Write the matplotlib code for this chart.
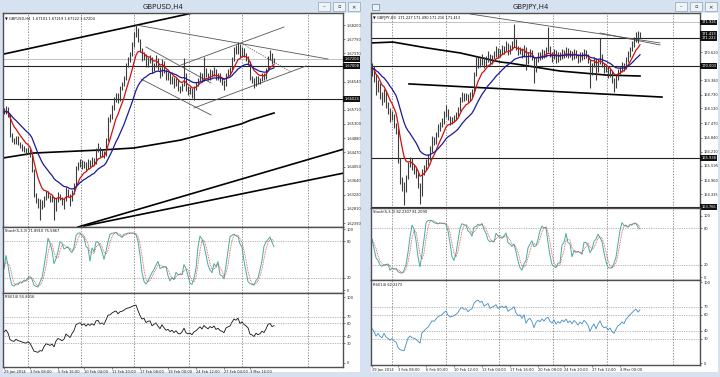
import numpy as np
import pandas as pd
import matplotlib
matplotlib.use("Agg")
import matplotlib.pyplot as plt
from matplotlib.patches import Rectangle

# ---------------- GBPUSD H4 ----------------
usd_close = [1.6565, 1.6577, 1.6556, 1.6498, 1.6483, 1.6477, 1.6489, 1.6474, 1.6468, 1.6460,
             1.6454, 1.6448, 1.6454, 1.6439, 1.6395, 1.6322, 1.6307, 1.6293, 1.6301, 1.6293,
             1.6313, 1.6328, 1.6319, 1.6307, 1.6313, 1.6278, 1.6307, 1.6322, 1.6313, 1.6299,
             1.6307, 1.6337, 1.6322, 1.6307, 1.6331, 1.6351, 1.6401, 1.6410, 1.6419, 1.6404,
             1.6416, 1.6401, 1.6419, 1.6410, 1.6425, 1.6416, 1.6454, 1.6460, 1.6439, 1.6448,
             1.6439, 1.6483, 1.6542, 1.6548, 1.6577, 1.6600, 1.6615, 1.6600, 1.6635, 1.6644,
             1.6665, 1.6703, 1.6718, 1.6732, 1.6761, 1.6791, 1.6805, 1.6776, 1.6747, 1.6723,
             1.6732, 1.6703, 1.6718, 1.6723, 1.6688, 1.6703, 1.6718, 1.6694, 1.6674, 1.6712,
             1.6688, 1.6665, 1.6674, 1.6653, 1.6665, 1.6644, 1.6659, 1.6635, 1.6630, 1.6644,
             1.6674, 1.6635, 1.6624, 1.6630, 1.6615, 1.6635, 1.6644, 1.6659, 1.6674, 1.6659,
             1.6688, 1.6674, 1.6665, 1.6682, 1.6674, 1.6688, 1.6665, 1.6674, 1.6659, 1.6653,
             1.6644, 1.6674, 1.6682, 1.6688, 1.6718, 1.6747, 1.6741, 1.6761, 1.6732, 1.6747,
             1.6732, 1.6723, 1.6712, 1.6665, 1.6659, 1.6644, 1.6665, 1.6653, 1.6659, 1.6674,
             1.6665, 1.6688, 1.6723, 1.6732, 1.6712, 1.6720]
usd_high = [1.6578, 1.6584, 1.6580, 1.6560, 1.6505, 1.6490, 1.6495, 1.6494, 1.6478, 1.6472,
            1.6466, 1.6460, 1.6462, 1.6458, 1.6442, 1.6398, 1.6328, 1.6312, 1.6310, 1.6308,
            1.6320, 1.6335, 1.6334, 1.6322, 1.6320, 1.6315, 1.6312, 1.6330, 1.6326, 1.6316,
            1.6312, 1.6345, 1.6340, 1.6326, 1.6338, 1.6358, 1.6408, 1.6418, 1.6427, 1.6424,
            1.6423, 1.6420, 1.6426, 1.6424, 1.6432, 1.6430, 1.6460, 1.6474, 1.6464, 1.6456,
            1.6452, 1.6490, 1.6550, 1.6560, 1.6585, 1.6610, 1.6622, 1.6620, 1.6642, 1.6652,
            1.6672, 1.6710, 1.6726, 1.6740, 1.6770, 1.6800, 1.6823, 1.6810, 1.6780, 1.6752,
            1.6740, 1.6736, 1.6725, 1.6732, 1.6726, 1.6710, 1.6732, 1.6722, 1.6698, 1.6720,
            1.6716, 1.6692, 1.6682, 1.6678, 1.6672, 1.6668, 1.6666, 1.6662, 1.6640, 1.6650,
            1.6723, 1.6678, 1.6640, 1.6638, 1.6634, 1.6642, 1.6652, 1.6666, 1.6682, 1.6678,
            1.6726, 1.6694, 1.6680, 1.6690, 1.6688, 1.6696, 1.6692, 1.6680, 1.6678, 1.6664,
            1.6658, 1.6680, 1.6690, 1.6696, 1.6725, 1.6755, 1.6760, 1.6770, 1.6764, 1.6755,
            1.6752, 1.6738, 1.6728, 1.6716, 1.6672, 1.6664, 1.6672, 1.6670, 1.6666, 1.6680,
            1.6678, 1.6695, 1.6730, 1.6747, 1.6738, 1.6722]
usd_low = [1.6558, 1.6560, 1.6550, 1.6492, 1.6476, 1.6470, 1.6472, 1.6468, 1.6460, 1.6452,
           1.6448, 1.6440, 1.6442, 1.6432, 1.6388, 1.6315, 1.6298, 1.6285, 1.6249, 1.6280,
           1.6288, 1.6308, 1.6312, 1.6300, 1.6302, 1.6249, 1.6275, 1.6302, 1.6306, 1.6292,
           1.6280, 1.6303, 1.6316, 1.6290, 1.6304, 1.6326, 1.6348, 1.6395, 1.6405, 1.6398,
           1.6400, 1.6395, 1.6398, 1.6404, 1.6406, 1.6410, 1.6412, 1.6448, 1.6432, 1.6434,
           1.6430, 1.6436, 1.6480, 1.6535, 1.6544, 1.6572, 1.6595, 1.6592, 1.6598, 1.6630,
           1.6640, 1.6660, 1.6698, 1.6712, 1.6728, 1.6755, 1.6785, 1.6770, 1.6740, 1.6715,
           1.6718, 1.6696, 1.6698, 1.6710, 1.6680, 1.6684, 1.6698, 1.6688, 1.6666, 1.6670,
           1.6680, 1.6658, 1.6660, 1.6646, 1.6648, 1.6636, 1.6640, 1.6628, 1.6622, 1.6626,
           1.6640, 1.6628, 1.6616, 1.6618, 1.6606, 1.6600, 1.6630, 1.6640, 1.6655, 1.6652,
           1.6655, 1.6668, 1.6658, 1.6660, 1.6668, 1.6670, 1.6658, 1.6660, 1.6652, 1.6645,
           1.6630, 1.6640, 1.6670, 1.6676, 1.6684, 1.6714, 1.6734, 1.6736, 1.6725, 1.6728,
           1.6725, 1.6716, 1.6704, 1.6658, 1.6650, 1.6636, 1.6640, 1.6646, 1.6648, 1.6655,
           1.6658, 1.6662, 1.6685, 1.6718, 1.6705, 1.6710]
usd_rsi_seed = (0.00075, 0.00085)  # average gain / loss carried in from before the window
usd_ma200_x = [-0.5, 15, 48.5, 65, 88.5, 118.5, 123.5, 135]
usd_ma200 = [1.64304, 1.64450, 1.64538, 1.64597, 1.64831, 1.65300, 1.65417, 1.65622]
usd_thick_lines = [((-1, 1.67338), (100, 1.68625)),
                   ((37, 1.62282), (170, 1.64567)),
                   ((40, 1.62311), (170, 1.63864))]
usd_thin_lines = [((66, 1.68201), (162, 1.67204)),
                  ((71, 1.67556), (103.5, 1.66501)),
                  ((68.5, 1.66618), (103.5, 1.65564)),
                  ((95, 1.65769), (151, 1.66999)),
                  ((88.5, 1.67029), (140, 1.68142))]
usd_dotted_lines = [((118.5, 1.67673), (143.5, 1.66823))]
usd_hlines = [1.67008, 1.66024]
usd_bid = 1.67204
usd_price_ticks = [1.68200, 1.67790, 1.67370, 1.66540, 1.65710, 1.65300, 1.64880,
                   1.64470, 1.64050, 1.63640, 1.63220, 1.62810, 1.62390]
usd_boxes = [1.67204, 1.67008, 1.66024]
usd_box_labels = ["1.67204", "1.67008", "1.66024"]
usd_date_pos = [0, 13, 27, 40, 54, 68, 82, 96, 110, 123]
usd_dates = ["29 Jan 2014", "3 Feb 08:00", "5 Feb 16:00", "10 Feb 04:00", "11 Feb 20:00",
             "17 Feb 08:00", "19 Feb 00:00", "24 Feb 12:00", "27 Feb 04:00", "3 Mar 16:00"]
usd_grid = [12, 38.5, 65, 92.25, 118.75, 152]

# ---------------- GBPJPY H4 ----------------
jpy_close = [169.91, 169.60, 168.94, 169.16, 168.72, 168.50, 168.85, 168.28, 168.06, 167.71,
             167.84, 167.40, 167.18, 165.85, 164.97, 164.75, 164.53, 165.06, 165.63, 165.85,
             165.50, 165.41, 165.19, 164.75, 164.30, 165.32, 165.50, 165.76, 165.94, 166.29,
             166.73, 166.65, 166.95, 167.26, 167.40, 167.53, 167.84, 168.06, 167.71, 167.53,
             167.62, 167.71, 167.84, 168.06, 168.50, 168.72, 168.59, 168.68, 168.50, 168.72,
             168.85, 169.60, 170.05, 170.27, 170.13, 170.36, 170.05, 170.27, 170.49, 170.18,
             170.36, 170.49, 170.71, 170.49, 170.62, 170.80, 170.71, 170.93, 170.62, 170.80,
             170.93, 171.15, 170.80, 170.62, 170.71, 170.49, 170.80, 170.18, 170.49, 170.62,
             170.36, 169.83, 170.27, 170.49, 170.36, 170.62, 170.44, 170.71, 170.80, 170.49,
             170.36, 170.62, 170.27, 170.49, 170.36, 170.62, 170.49, 170.71, 170.44, 170.58,
             170.36, 170.62, 170.49, 170.27, 170.49, 170.36, 170.62, 170.49, 170.27, 169.74,
             170.05, 170.27, 169.83, 170.18, 170.49, 170.05, 169.83, 169.91, 169.60, 169.74,
             169.38, 169.16, 169.47, 169.74, 169.83, 170.05, 169.91, 170.27, 170.49, 170.71,
             170.93, 171.15, 171.33, 171.15, 171.41]
jpy_high = [170.13, 170.00, 169.65, 169.40, 169.25, 168.85, 169.00, 168.95, 168.40, 168.15,
            168.00, 167.90, 167.50, 167.25, 165.95, 165.10, 164.90, 165.20, 165.75, 166.00,
            165.95, 165.65, 165.50, 165.30, 164.85, 165.45, 165.65, 165.90, 166.10, 166.45,
            166.90, 166.85, 167.10, 167.45, 167.55, 167.70, 168.00, 168.30, 168.10, 167.80,
            167.75, 167.85, 167.95, 168.20, 168.65, 168.85, 168.80, 168.80, 168.75, 168.85,
            169.00, 169.75, 170.45, 170.40, 170.35, 170.55, 170.40, 170.45, 170.65, 170.55,
            170.50, 170.65, 170.90, 170.80, 170.75, 170.95, 170.90, 171.10, 171.00, 170.95,
            171.10, 171.86, 171.20, 170.90, 170.85, 170.80, 170.95, 170.85, 170.60, 170.75,
            170.70, 170.40, 170.40, 170.60, 170.60, 170.75, 170.70, 170.85, 171.72, 170.90,
            170.60, 170.75, 170.70, 170.60, 170.60, 170.75, 170.70, 170.85, 170.80, 170.70,
            170.65, 170.75, 170.70, 170.55, 170.60, 170.60, 170.75, 170.70, 170.55, 170.30,
            170.15, 170.40, 170.35, 170.30, 171.24, 170.55, 170.15, 170.05, 170.00, 169.85,
            169.80, 169.45, 169.60, 169.85, 169.95, 170.20, 170.15, 170.40, 170.65, 170.85,
            171.10, 171.30, 171.50, 171.55, 171.49]
jpy_low = [169.55, 169.30, 168.70, 168.85, 168.55, 168.30, 168.40, 168.15, 167.90, 167.55,
           167.60, 167.25, 167.00, 165.70, 164.80, 164.50, 163.85, 164.45, 165.00, 165.55,
           165.40, 165.25, 165.05, 164.60, 163.90, 164.25, 165.20, 165.40, 165.65, 165.85,
           166.20, 166.50, 166.55, 166.85, 167.15, 167.30, 167.45, 167.75, 167.60, 167.40,
           167.45, 167.55, 167.60, 167.75, 168.00, 168.40, 168.45, 168.50, 168.40, 168.45,
           168.65, 168.80, 169.55, 169.90, 169.95, 170.05, 169.90, 170.00, 170.20, 170.05,
           170.10, 170.30, 170.40, 170.35, 170.40, 170.55, 170.55, 170.65, 170.50, 170.55,
           170.70, 170.85, 170.70, 170.50, 170.55, 170.35, 170.40, 169.82, 170.10, 170.40,
           170.25, 169.25, 169.75, 170.20, 170.25, 170.30, 170.35, 170.40, 170.60, 170.40,
           170.20, 170.30, 170.15, 170.20, 170.25, 170.30, 170.35, 170.40, 170.35, 170.40,
           170.25, 170.30, 170.35, 170.15, 170.20, 170.25, 170.30, 170.35, 170.15, 169.03,
           169.60, 169.95, 169.38, 169.75, 170.10, 169.95, 169.70, 169.75, 169.45, 169.50,
           169.25, 168.85, 169.05, 169.40, 169.65, 169.75, 169.80, 169.85, 170.20, 170.40,
           170.65, 170.85, 171.05, 171.00, 171.22]
jpy_rsi_seed = (0.12, 0.16)
jpy_ma200_x = [-0.5, 10.5, 27.5, 44, 64, 69, 94, 117.5, 134]
jpy_ma200 = [171.02, 171.06, 170.80, 170.58, 170.18, 170.13, 169.78, 169.60, 169.56]
jpy_thick_lines = [((18.5, 169.21), (145, 168.63))]
jpy_thin_lines = [((49, 172.30), (144, 171.02)),
                  ((114, 171.46), (144, 170.93))]
jpy_dotted_lines = []
jpy_hlines = [171.222, 170.003, 165.938, 163.766]
jpy_bid = 171.940
jpy_price_ticks = [170.620, 169.380, 168.730, 168.130, 167.470, 166.840, 166.210,
                   165.595, 164.960, 164.335]
jpy_boxes = [171.926, 171.413, 171.222, 170.003, 165.938, 163.766]
jpy_box_labels = ["171.926", "171.413", "171.222", "170.003", "165.938", "163.766"]
jpy_date_pos = [0, 13, 27, 41, 55, 69, 83, 96, 110, 124]
jpy_dates = ["29 Jan 2014", "3 Feb 08:00", "6 Feb 00:00", "10 Feb 12:00", "13 Feb 04:00",
             "17 Feb 16:00", "20 Feb 08:00", "24 Feb 20:00", "27 Feb 12:00", "4 Mar 00:00"]
jpy_grid = [10, 37, 63.5, 90.5, 117.5, 150.5]

W, H = 720, 377
FS = 2.6


def rect(l, t, r, b):
    return [l / W, 1 - b / H, (r - l) / W, (b - t) / H]


def ema(v, n):
    return pd.Series(v).ewm(span=n, adjust=False).mean().values


def stoch(h, l, c):
    h, l, c = pd.Series(h), pd.Series(l), pd.Series(c)
    hh = h.rolling(5, min_periods=1).max()
    ll = l.rolling(5, min_periods=1).min()
    main = 100 * (c - ll).rolling(3, min_periods=1).sum() / (hh - ll).rolling(3, min_periods=1).sum()
    return main.values, main.rolling(3, min_periods=1).mean().values


def rsi(c, seed, n=14):
    ag, al = seed
    out = [100 - 100 / (1 + ag / al)]
    for d in np.diff(c):
        ag = (ag * (n - 1) + max(d, 0)) / n
        al = (al * (n - 1) + max(-d, 0)) / n
        out.append(100 - 100 / (1 + ag / al))
    return np.array(out)


def style_axes(ax):
    for s in ax.spines.values():
        s.set_color("#505050")
        s.set_linewidth(1.0)
    ax.set_facecolor("white")
    ax.yaxis.tick_right()
    ax.tick_params(axis="y", labelsize=FS, length=1.5, width=0.4, pad=1, colors="#222222")
    ax.tick_params(axis="x", length=0)
    ax.set_xticks([])


def draw(fig, geo, header, stoch_txt, rsi_txt, close, high, low, seed, ma_x, ma200,
         thick, thin, dotted, hlines, bid, ticks, boxes, box_labels, dpos, dates, grid,
         xmax, ylim, slim, rlim, rsi_color):
    left, right, p_top, p_bot, s_bot, r_bot = geo
    x = np.arange(len(close))

    axp = fig.add_axes(rect(left, p_top, right, p_bot))
    axs = fig.add_axes(rect(left, p_bot, right, s_bot))
    axr = fig.add_axes(rect(left, s_bot, right, r_bot))
    for ax in (axp, axs, axr):
        style_axes(ax)
        ax.set_xlim(-0.5, xmax)
        for g in grid:
            ax.axvline(g, color="#6a6a6a", lw=0.5, ls=(0, (2, 2)), zorder=0)

    # price panel
    axp.set_ylim(*ylim)
    axp.axhline(bid, color="#b8b8b8", lw=0.6, zorder=1)
    for hv in hlines:
        axp.axhline(hv, color="#202020", lw=0.8, zorder=1)
    for (a, b) in thick:
        axp.plot([a[0], b[0]], [a[1], b[1]], color="black", lw=1.2, zorder=2)
    for (a, b) in thin:
        axp.plot([a[0], b[0]], [a[1], b[1]], color="#555555", lw=0.6, zorder=2)
    for (a, b) in dotted:
        axp.plot([a[0], b[0]], [a[1], b[1]], color="#555555", lw=0.6, ls=(0, (1.5, 1.5)), zorder=2)
    axp.plot(ma_x, ma200, color="black", lw=1.2, zorder=2)
    axp.vlines(x, low, high, color="#3c3c3c", lw=0.8, zorder=3)
    axp.plot(x, ema(close, 8), color="#d01010", lw=0.9, zorder=4)
    axp.plot(x, ema(close, 21), color="#1a1a9c", lw=0.9, zorder=4)
    axp.set_yticks(ticks)
    axp.set_yticklabels([f"{t:.5f}" if t < 10 else f"{t:.3f}" for t in ticks])
    ytr = axp.get_yaxis_transform()
    for p, lab in zip(boxes, box_labels):
        axp.text(1.004, p, lab, transform=ytr, fontsize=FS, color="white", va="center", ha="left",
                 bbox=dict(boxstyle="square,pad=0.25", fc="#111111", ec="none"), clip_on=False)
    axp.text(0.006, 0.985, header, transform=axp.transAxes, fontsize=FS, va="top", ha="left",
             color="#111111")

    # stochastic panel
    k, d = stoch(high, low, close)
    axs.set_ylim(*slim)
    axs.plot(x, k, color="#4aa9a2", lw=0.7)
    axs.plot(x, d, color="#d04a4a", lw=0.6, ls=(0, (1, 1)))
    for lv in (80, 20):
        axs.axhline(lv, color="#7a7a7a", lw=0.5, ls=(0, (1, 1.5)))
    axs.set_yticks([100, 80, 20, 0])
    axs.set_yticklabels(["100", "80", "20", "0"])
    axs.text(0.006, 0.97, stoch_txt, transform=axs.transAxes, fontsize=FS, va="top", color="#111111")

    # rsi panel
    axr.set_ylim(*rlim)
    axr.plot(x, rsi(close, seed), color=rsi_color, lw=0.6)
    for lv in (70, 60, 40, 30):
        axr.axhline(lv, color="#7a7a7a", lw=0.5, ls=(0, (1, 1.5)))
    axr.set_yticks([100, 70, 60, 40, 30, 0])
    axr.set_yticklabels(["100", "70", "60", "40", "30", "0"])
    axr.text(0.006, 0.97, rsi_txt, transform=axr.transAxes, fontsize=FS, va="top", color="#111111")
    axr.set_xticks(dpos)
    axr.set_xticklabels(dates)
    axr.tick_params(axis="x", labelsize=FS, length=1.5, width=0.4, pad=0.5, colors="#222222")
    for t in axr.get_xticklabels():
        t.set_ha("left")


fig = plt.figure(figsize=(W / 100, H / 100), dpi=100)
fig.patch.set_facecolor("#d6e2ef")

# window client areas
for l, t, r, b in [(3, 13, 360, 372), (371, 13, 718, 372)]:
    fig.patches.append(Rectangle((l / W, 1 - b / H), (r - l) / W, (b - t) / H,
                                 transform=fig.transFigure, fc="white", ec="none", zorder=-5))
# title bar buttons
for bx, s in zip([318, 333, 348, 675, 690, 705], ["–", "▫", "✕"] * 2):
    fig.patches.append(Rectangle((bx / W, 1 - 11 / H), 12 / W, 9 / H, transform=fig.transFigure,
                                 fc="#eef3f9", ec="#8ea3ba", lw=0.5))
    fig.text((bx + 6) / W, 1 - 6.5 / H, s, fontsize=3.8, ha="center", va="center", color="#333333")
fig.patches.append(Rectangle((372 / W, 1 - 10 / H), 7 / W, 6 / H, transform=fig.transFigure,
                             fc="#eef3f9", ec="#6a7f99", lw=0.5))

fig.text(163 / W, 1 - 6.5 / H, "GBPUSD,H4", fontsize=5, ha="center", va="center", color="#222222")
fig.text(531 / W, 1 - 6.5 / H, "GBPJPY,H4", fontsize=5, ha="center", va="center", color="#222222")

draw(fig, (3, 343, 13, 227, 293, 367),
     "▼ GBPUSD,H4  1.67101 1.67219 1.67122 1.67204",
     "Stoch(5,3,3) 71.8910 75.5867", "RSI(14) 55.8916",
     usd_close, usd_high, usd_low, usd_rsi_seed, usd_ma200_x, usd_ma200,
     usd_thick_lines, usd_thin_lines, usd_dotted_lines, usd_hlines, usd_bid,
     usd_price_ticks, usd_boxes, usd_box_labels, usd_date_pos, usd_dates, usd_grid,
     169.5, (1.62282, 1.68552), (-4.9, 103.3), (-6.5, 106.1), "#111111")

draw(fig, (371, 700, 13, 208, 280, 365),
     "▼ GBPJPY,H4  171.227 171.490 171.216 171.413",
     "Stoch(5,3,3) 82.2307 81.2090", "RSI(14) 62.2273",
     jpy_close, jpy_high, jpy_low, jpy_rsi_seed, jpy_ma200_x, jpy_ma200,
     jpy_thick_lines, jpy_thin_lines, jpy_dotted_lines, jpy_hlines, jpy_bid,
     jpy_price_ticks, jpy_boxes, jpy_box_labels, jpy_date_pos, jpy_dates, jpy_grid,
     164, (163.73, 172.343), (-4.9, 113.0), (-2.1, 102.8), "#3d8cc6")

fig.savefig("out.png", dpi=100, facecolor=fig.get_facecolor())
